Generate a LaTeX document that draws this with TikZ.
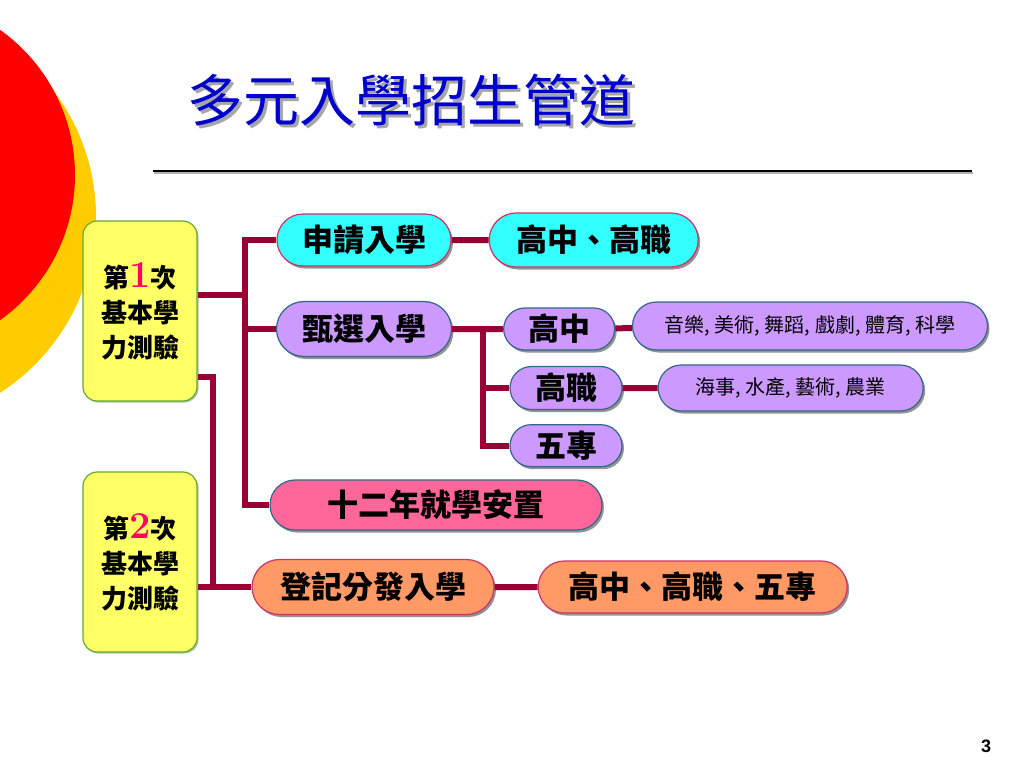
\documentclass[tikz,border=0pt]{standalone}
\usepackage{fontspec}
\setsansfont{Liberation Sans}
\newfontfamily\cjk{Noto Sans CJK TC}
\usepackage{tikz}
\usetikzlibrary{shapes,arrows,positioning,calc,shadows}
\definecolor{sunred}{RGB}{255, 0, 0}
\definecolor{sunyellow}{RGB}{255, 204, 0}
\definecolor{titleblue}{RGB}{0, 0, 204}
\definecolor{ruby}{RGB}{153, 0, 51}
\definecolor{aqua}{RGB}{51, 255, 255}
\definecolor{lilac}{RGB}{204, 153, 255}
\definecolor{rose}{RGB}{255, 102, 153}
\definecolor{salmon}{RGB}{255, 153, 102}
\definecolor{lemon}{RGB}{255, 255, 102}
\definecolor{leaf}{RGB}{102, 170, 51}
\definecolor{slate}{RGB}{51, 102, 136}
\definecolor{berry}{RGB}{204, 51, 102}
\definecolor{hotpink}{RGB}{255, 0, 102}
\tikzstyle{pill} = [rounded rectangle, line width=1.2pt, text=black, inner sep=0pt, font=\cjk\bfseries\fontsize{31}{31}\selectfont, drop shadow={shadow xshift=2pt, shadow yshift=-2.5pt, fill=black!70, opacity=0.6}]
\tikzstyle{applybox} = [pill, draw=berry, fill=aqua]
\tikzstyle{selectbox} = [pill, draw=slate, fill=lilac]
\tikzstyle{placebox} = [pill, draw=slate, fill=rose]
\tikzstyle{assignbox} = [pill, draw=berry, fill=salmon]
\tikzstyle{subject} = [selectbox, font=\cjk\fontsize{20}{20}\selectfont]
\tikzstyle{testbox} = [rectangle, rounded corners=14pt, draw=leaf, line width=1.2pt, fill=lemon, text=black, align=center, minimum width=114pt, minimum height=180pt, font=\cjk\bfseries\fontsize{26}{35}\selectfont, drop shadow={shadow xshift=1.5pt, shadow yshift=-1.5pt, fill=leaf!60!black, opacity=0.4}]
\tikzstyle{titletext} = [font=\cjk\fontsize{56}{56}\selectfont, inner sep=0pt]
\tikzstyle{link} = [draw=ruby, line width=6pt]
\newcommand{\bignum}[1]{{\rmfamily\fontsize{38}{38}\selectfont\color{hotpink}#1}}

\begin{document}
\begin{tikzpicture}[x=1pt, y=-1pt]
\useasboundingbox (0,0) rectangle (1024,768);
\fill[white] (0,0) rectangle (1024,768);

% corner discs ===============================
\begin{scope}
\clip (0,0) rectangle (1024,768);
\fill[sunyellow] (-113,217) circle (209pt);
\fill[sunred] (-103,175) circle (178pt);
\end{scope}

% title and rule
\node[titletext, text=black!35] at (414,103) {多元入學招生管道};
\node[titletext, text=titleblue] (title) at (411,100) {多元入學招生管道};
\coordinate (ruleL) at (153,171);
\coordinate (ruleR) at (972,171);
\draw[black!30, line width=1.5pt] ($(ruleL)+(1,2)$) -- ($(ruleR)+(1,2)$);
\draw[line width=1.5pt] (ruleL) -- (ruleR);

% test boxes
\node[testbox] (test1) at (140,311) {第\bignum{1}次\\基本學\\力測驗};
\node[testbox] (test2) at (140,562) {第\bignum{2}次\\基本學\\力測驗};

% routes
\node[applybox, minimum width=174pt, minimum height=52pt] (apply) at (364,240) {申請入學};
\node[applybox, minimum width=209pt, minimum height=54pt, right=37pt of apply] (applyout) {高中、高職};
\node[selectbox, minimum width=175pt, minimum height=55pt] (select) at (364,329) {甄選入學};
\node[selectbox, minimum width=111pt, minimum height=42pt, right=51pt of select] (selsh) {高中};
\node[subject, minimum width=355pt, minimum height=48pt] (selshx) at (810,326) {音樂, 美術, 舞蹈, 戲劇, 體育, 科學};
\node[selectbox, minimum width=112pt, minimum height=43pt] (selvs) at (566,388) {高職};
\node[subject, minimum width=265pt, minimum height=46pt, right=35pt of selvs] (selvsx) {海事, 水產, 藝術, 農業};
\node[selectbox, minimum width=112pt, minimum height=42pt, below=14pt of selvs] (seljc) {五專};
\node[placebox, minimum width=332pt, minimum height=50pt] (place) at (436,505) {十二年就學安置};
\node[assignbox, minimum width=242pt, minimum height=55pt] (assign) at (373,587) {登記分發入學};
\node[assignbox, minimum width=309pt, minimum height=52pt, right=43pt of assign] (assignout) {高中、高職、五專};

% edges
\coordinate (trunk) at (245,295);
\coordinate (trunk2) at (213,377);
\coordinate (fork) at ($(select.east)!0.6!(selsh.west)$);
\draw[link] ($(test1.east)+(0,-16)$) -- (trunk);
\draw[link] (apply.west) -| (trunk) |- (place.west);
\draw[link] (select.west) -- (select.west -| trunk);
\draw[link] ($(test1.east)+(0,66)$) -- (trunk2) |- (assign.west);
\draw[link] (test2.east |- assign.west) -- (trunk2 |- assign.west);
\path[link] (apply) edge (applyout);
\path[link] (select) edge (selsh);
\draw[link] (fork) |- (seljc.west);
\draw[link] (selvs.west) -- (selvs.west -| fork);
\path[link] (selsh) edge (selshx);
\path[link] (selvs) edge (selvsx);
\path[link] (assign) edge (assignout);

% page number
\node[font=\sffamily\bfseries\fontsize{18}{18}\selectfont] (pagenum) at (986,746) {3};

\end{tikzpicture}
\end{document}
